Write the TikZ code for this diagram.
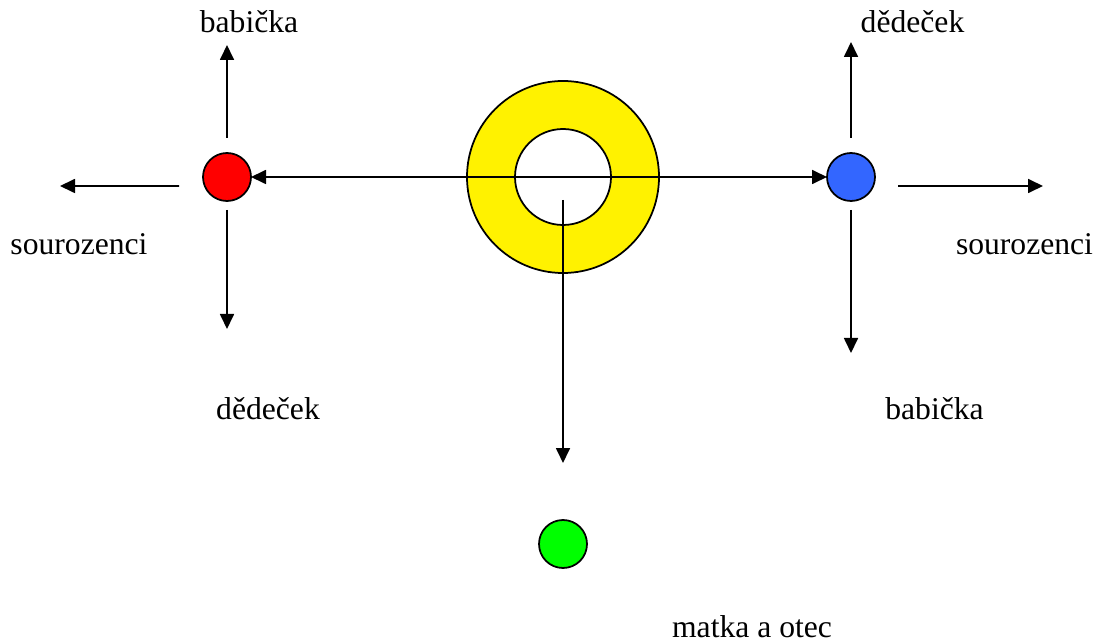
\documentclass[tikz,border=0pt]{standalone}
\usepackage{fontspec}
\setmainfont{Liberation Serif}
\usetikzlibrary{arrows.meta}
\begin{document}
\begin{tikzpicture}[
		line width=0.035cm,
		font=\fontsize{18}{21}\selectfont
	]
	\tikzset{
		person/.style = {circle, draw=black, minimum size=0.96cm, inner sep=0pt, outer sep=0pt},
		ringout/.style = {circle, draw=black, fill=yellow, minimum size=3.84cm, inner sep=0pt, outer sep=0pt},
		ringin/.style = {circle, draw=black, fill=white, minimum size=1.92cm, inner sep=0pt, outer sep=0pt},
		label/.style = {anchor=base, inner sep=0pt},
		myarrow/.style = {-{Triangle[length=0.3cm,width=0.28cm]}},
	}
		\useasboundingbox (0,0) rectangle (21.88,12.84);
		%
		\node[ringout] at (11.26,9.30) (ring) {};
		\node[ringin] at (11.26,9.30) (hole) {};
		\node[person, fill=red] at (4.54,9.30) (red) {};
		\node[person, fill={rgb,255:red,51;green,102;blue,255}] at (17.02,9.30) (blue) {};
		\node[person, fill={rgb,255:red,0;green,255;blue,0}] at (11.26,1.96) (green) {};
		%
		\coordinate (redup) at (4.54,11.94);
		\coordinate (redsib) at (1.20,9.12);
		\coordinate (reddown) at (4.54,6.26);
		\coordinate (blueup) at (17.02,12.00);
		\coordinate (bluesib) at (20.86,9.12);
		\coordinate (bluedown) at (17.02,5.78);
		\coordinate (parents) at (11.26,3.58);
		%
		\draw[myarrow] (ring.center) -- (red);
		\draw[myarrow] (ring.center) -- (blue);
		\draw[myarrow] ([yshift=-0.46cm]ring.center) -- (parents);
		%
		\draw[myarrow, shorten <=0.3cm] (red) -- (redup);
		\draw[myarrow, shorten <=0.48cm] ([yshift=-0.18cm]red.west) -- (redsib);
		\draw[myarrow, shorten <=0.18cm] (red) -- (reddown);
		%
		\draw[myarrow, shorten <=0.3cm] (blue) -- (blueup);
		\draw[myarrow, shorten <=0.46cm] ([yshift=-0.18cm]blue.east) -- (bluesib);
		\draw[myarrow, shorten <=0.18cm] (blue) -- (bluedown);
		%
		\node[label] at (4.98,12.18) (gm1) {babička};
		\node[label] at (1.58,7.74) (sib1) {sourozenci};
		\node[label] at (5.36,4.44) (gf1) {dědeček};
		\node[label] at (18.25,12.18) (gf2) {dědeček};
		\node[label] at (20.49,7.74) (sib2) {sourozenci};
		\node[label] at (18.69,4.44) (gm2) {babička};
		\node[label] at (15.04,0.10) (par) {matka a otec};
	\end{tikzpicture}
\end{document}
